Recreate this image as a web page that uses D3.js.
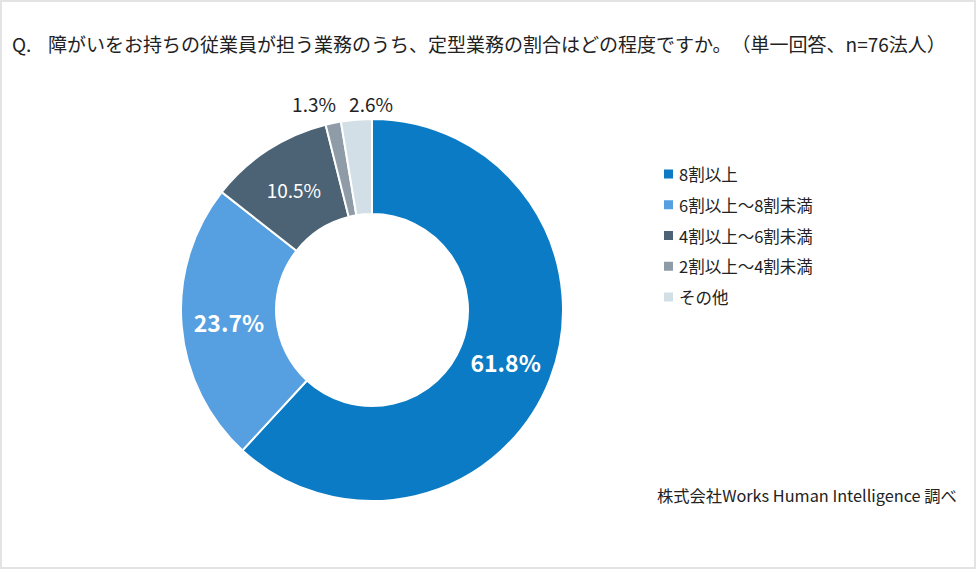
<!DOCTYPE html>
<html>
<head>
<meta charset="utf-8">
<script src="https://cdn.jsdelivr.net/npm/d3@7"></script>
<style>
  html, body { margin: 0; padding: 0; background: #fff; }
  svg { display: block; font-family: "Noto Sans CJK JP", "Noto Sans", sans-serif; text-spacing-trim: space-all; }
</style>
</head>
<body>
<div id="chart"></div>
<script>
const categories = ['8割以上', '6割以上～8割未満', '4割以上～6割未満', '2割以上～4割未満', 'その他']
const shares = [61.8, 23.7, 10.5, 1.3, 2.6]
const colors = ['#0a7bc4', '#569fe0', '#4b6375', '#8f9ca8', '#d2dfe6']
const titleText = '障がいをお持ちの従業員が担う業務のうち、定型業務の割合はどの程度ですか。（単一回答、n=76法人）'
const sourceText = '株式会社Works Human Intelligence 調べ'

const width = 977
const height = 571
const cx = 372
const cy = 310
const outerR = 191
const innerR = 96

const svg = d3.select('#chart')
  .append('svg')
  .attr('width', width)
  .attr('height', height)

// frame
svg.append('rect')
  .attr('x', 1).attr('y', 1)
  .attr('width', width - 3).attr('height', height - 4)
  .attr('fill', '#fff')
  .attr('stroke', '#e3e3e3')
  .attr('stroke-width', 2)

svg.append('text')
  .attr('x', 12).attr('y', 52)
  .attr('font-size', 19).attr('fill', '#222')
  .text('Q.')
svg.append('text')
  .attr('x', 48).attr('y', 52)
  .attr('font-size', 19).attr('fill', '#222')
  .text(titleText)

const data = categories.map((c, i) => ({ name: c, value: shares[i], color: colors[i] }))

const pie = d3.pie().value(d => d.value).sort(null)
const arcs = pie(data)
const arc = d3.arc().innerRadius(innerR).outerRadius(outerR)

const g = svg.append('g').attr('transform', `translate(${cx},${cy})`)

g.selectAll('path')
  .data(arcs)
  .enter()
  .append('path')
  .attr('d', arc)
  .attr('fill', d => d.data.color)
  .attr('stroke', '#fff')
  .attr('stroke-width', 2)

// inside labels for big slices, outside for small ones
const inside = arcs.filter(d => d.data.value >= 5)
const outside = arcs.filter(d => d.data.value < 5)

g.selectAll('text.inside')
  .data(inside)
  .enter()
  .append('text')
  .attr('class', 'inside')
  .attr('x', d => arc.centroid(d)[0])
  .attr('y', d => arc.centroid(d)[1])
  .attr('text-anchor', 'middle')
  .attr('dominant-baseline', 'central')
  .attr('fill', '#fff')
  .attr('font-size', d => d.data.value > 20 ? 23 : 19)
  .attr('font-weight', d => d.data.value > 20 ? 'bold' : 'normal')
  .text(d => d.data.value.toFixed(1) + '%')

// outside labels: place on a ring above the donut, then push apart
const labelR = 207
const minGap = 57
const outPos = outside.map(d => {
  const a = (d.startAngle + d.endAngle) / 2
  return { d, x: labelR * Math.sin(a), y: -labelR * Math.cos(a) }
})
const mean = d3.mean(outPos, p => p.x)
const spread = minGap * (outPos.length - 1) / 2
const topY = d3.min(outPos, p => p.y)
outPos.forEach((p, i) => {
  p.x = mean - spread + i * minGap
  p.y = topY
})

g.selectAll('text.outside')
  .data(outPos)
  .enter()
  .append('text')
  .attr('class', 'outside')
  .attr('x', p => p.x)
  .attr('y', p => p.y)
  .attr('text-anchor', 'middle')
  .attr('dominant-baseline', 'central')
  .attr('fill', '#222')
  .attr('font-size', 19)
  .text(p => p.d.data.value.toFixed(1) + '%')

// legend
const legend = svg.append('g').attr('transform', 'translate(664,174)')
const rowY = d3.scalePoint().domain(categories).range([0, 123])

const rows = legend.selectAll('g')
  .data(data)
  .enter()
  .append('g')
  .attr('transform', d => `translate(0,${rowY(d.name)})`)

rows.append('rect')
  .attr('x', 0).attr('y', -4.5)
  .attr('width', 9).attr('height', 9)
  .attr('fill', d => d.color)

rows.append('text')
  .attr('x', 15).attr('y', 0)
  .attr('dominant-baseline', 'central')
  .attr('font-size', 16.5)
  .attr('fill', '#222')
  .text(d => d.name)

svg.append('text')
  .attr('x', 657).attr('y', 502)
  .attr('font-size', 16.3)
  .attr('fill', '#222')
  .text(sourceText)
</script>
</body>
</html>
